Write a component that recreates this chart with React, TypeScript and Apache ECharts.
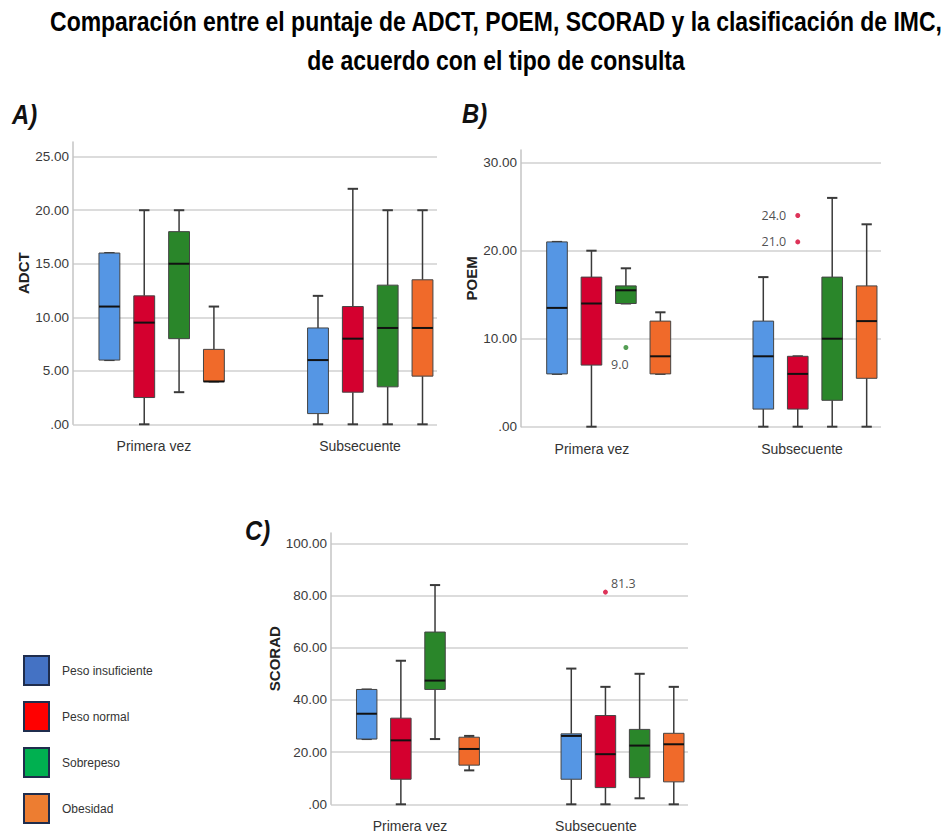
import React, { useEffect, useRef } from "react";
import * as echarts from "echarts";

// ---------------- data ----------------
const categories = ["Primera vez", "Subsecuente"];
const bmiClasses = ["Peso insuficiente", "Peso normal", "Sobrepeso", "Obesidad"];

// five-number summaries [min, Q1, median, Q3, max]; one row per category (Primera vez, Subsecuente)
const adctInsuficiente = [[6, 6, 11, 16, 16], [0, 1, 6, 9, 12]];
const adctNormal = [[0, 2.5, 9.5, 12, 20], [0, 3, 8, 11, 22]];
const adctSobrepeso = [[3, 8, 15, 18, 20], [0, 3.5, 9, 13, 20]];
const adctObesidad = [[4, 4, 4, 7, 11], [0, 4.5, 9, 13.5, 20]];

const poemInsuficiente = [[6, 6, 13.5, 21, 21], [0, 2, 8, 12, 17]];
const poemNormal = [[0, 7, 14, 17, 20], [0, 2, 6, 8, 8]];
const poemSobrepeso = [[14, 14, 15.5, 16, 18], [0, 3, 10, 17, 26]];
const poemObesidad = [[6, 6, 8, 12, 13], [0, 5.5, 12, 16, 23]];

const scoradInsuficiente = [[25, 25, 34.7, 44, 44], [0, 9.6, 26.2, 27, 52]];
const scoradNormal = [[0, 9.6, 24.5, 33, 55], [0, 6.4, 19.2, 34, 45]];
const scoradSobrepeso = [[25, 44, 47.4, 66, 84], [2.3, 10.2, 22.5, 28.7, 50]];
const scoradObesidad = [[13, 15, 21.2, 25.7, 26.2], [0, 8.6, 23, 27.2, 45]];

// outliers: [category index, class index, value]
const adctOutliers: number[][] = [];
const poemOutliers = [[0, 2, 9.0], [1, 1, 21.0], [1, 1, 24.0]];
const scoradOutliers = [[1, 1, 81.3]];

const adctTicks = [0, 5, 10, 15, 20, 25];
const poemTicks = [0, 10, 20, 30];
const scoradTicks = [0, 20, 40, 60, 80, 100];

const titleText =
  "Comparación entre el puntaje de ADCT, POEM, SCORAD y la clasificación de IMC,\nde acuerdo con el tipo de consulta";

// ---------------- styles / layout ----------------
const SANS = '"Liberation Sans", Arial, sans-serif';
const boxColors = ["#5596e4", "#d4002f", "#2a862a", "#f06a2a"];
const legendColors = ["#4472c4", "#ff0000", "#00b050", "#ed7d31"];
const SPACING = 0.167; // offset between boxes of one category, in x units
const BOX_W = 0.1;
const X_MIN = -0.425;
const X_MAX = 1.32;

const panels = [
  {
    tag: "A)", name: "ADCT", ticks: adctTicks, outliers: adctOutliers,
    boxes: [adctInsuficiente, adctNormal, adctSobrepeso, adctObesidad],
    grid: { left: 73, top: 156.7, width: 364, height: 267.6 }, axisTop: 142, nameGap: 42,
    labelAt: [-0.037, 0.951], tagPos: [12, 100],
  },
  {
    tag: "B)", name: "POEM", ticks: poemTicks, outliers: poemOutliers,
    boxes: [poemInsuficiente, poemNormal, poemSobrepeso, poemObesidad],
    grid: { left: 521, top: 162.7, width: 360, height: 264 }, axisTop: 150, nameGap: 42,
    labelAt: [-0.081, 0.937], tagPos: [462, 99],
  },
  {
    tag: "C)", name: "SCORAD", ticks: scoradTicks, outliers: scoradOutliers,
    boxes: [scoradInsuficiente, scoradNormal, scoradSobrepeso, scoradObesidad],
    grid: { left: 331, top: 543.3, width: 357, height: 261 }, axisTop: 533, nameGap: 49,
    labelAt: [-0.039, 0.87], tagPos: [245, 516],
  },
];

function outlierLabel(panel: string, cls: number) {
  if (panel === "POEM" && cls === 2) return { position: "bottom", distance: 8, offset: [-6, 0] };
  if (panel === "SCORAD") return { position: "right", distance: 3, offset: [0, -9] };
  return { position: "left", distance: 9 };
}

function makeRender(k: number) {
  return (params: any, api: any) => {
    const xc = api.value(0) + (k - 1.5) * SPACING;
    const mn = api.value(1), q1 = api.value(2), md = api.value(3), q3 = api.value(4), mx = api.value(5);
    const pMax = api.coord([xc, mx]);
    const pQ3 = api.coord([xc, q3]);
    const pMd = api.coord([xc, md]);
    const pQ1 = api.coord([xc, q1]);
    const pMin = api.coord([xc, mn]);
    const hb = api.size([BOX_W, 0])[0] / 2;
    const hc = hb / 2;
    const stroke = "#3a3a3a";
    return {
      type: "group",
      children: [
        { type: "line", shape: { x1: pMax[0], y1: pMax[1], x2: pQ3[0], y2: pQ3[1] }, style: { stroke, lineWidth: 1.5 } },
        { type: "line", shape: { x1: pQ1[0], y1: pQ1[1], x2: pMin[0], y2: pMin[1] }, style: { stroke, lineWidth: 1.5 } },
        { type: "line", shape: { x1: pMax[0] - hc, y1: pMax[1], x2: pMax[0] + hc, y2: pMax[1] }, style: { stroke, lineWidth: 2 } },
        { type: "line", shape: { x1: pMin[0] - hc, y1: pMin[1], x2: pMin[0] + hc, y2: pMin[1] }, style: { stroke, lineWidth: 2 } },
        {
          type: "rect",
          shape: { x: pQ3[0] - hb, y: pQ3[1], width: 2 * hb, height: Math.max(pQ1[1] - pQ3[1], 1) },
          style: { fill: boxColors[k], stroke: "#444", lineWidth: 1 },
        },
        { type: "line", shape: { x1: pMd[0] - hb, y1: pMd[1], x2: pMd[0] + hb, y2: pMd[1] }, style: { stroke: "#111", lineWidth: 2 } },
      ],
    };
  };
}

function buildOption() {
  const grid: any[] = [];
  const xAxis: any[] = [];
  const yAxis: any[] = [];
  const series: any[] = [];
  const graphic: any[] = [
    {
      type: "text", x: 496, y: 2, scaleX: 0.82,
      style: { text: titleText, align: "center", font: `bold 28px ${SANS}`, lineHeight: 39, fill: "#000" },
    },
  ];

  panels.forEach((p) => {
    const gFrame = grid.length;
    grid.push({ ...p.grid });
    const min = p.ticks[0];
    const max = p.ticks[p.ticks.length - 1];
    const interval = p.ticks[1] - p.ticks[0];
    xAxis.push({
      type: "value", gridIndex: gFrame, min: X_MIN, max: X_MAX,
      axisLine: { show: false }, axisTick: { show: false }, splitLine: { show: false },
      axisLabel: {
        customValues: p.labelAt,
        formatter: (v: number) => (v < 0.5 ? categories[0] : categories[1]),
        fontSize: 14, color: "#333", margin: 15, fontFamily: SANS,
      },
    });
    yAxis.push({
      type: "value", gridIndex: gFrame, min, max, interval,
      axisLine: { show: false }, axisTick: { show: false },
      splitLine: { show: true, lineStyle: { color: "#dcdcdc", width: 2 } },
      axisLabel: {
        formatter: (v: number) => (v === 0 ? ".00" : v.toFixed(2)),
        fontSize: 13.5, color: "#3a3a3a", margin: 4, fontFamily: SANS,
      },
    });
    // axis line grid
    const gLine = grid.length;
    const bottomY = p.grid.top + p.grid.height;
    grid.push({ left: p.grid.left, top: p.axisTop, width: 1, height: bottomY - p.axisTop });
    xAxis.push({ type: "value", gridIndex: gLine, show: false, min: 0, max: 1 });
    yAxis.push({
      type: "value", gridIndex: gLine, min: 0, max: 1,
      axisLine: { show: true, lineStyle: { color: "#c4c4c4", width: 1.5 } },
      axisTick: { show: false }, axisLabel: { show: false }, splitLine: { show: false },
      name: p.name, nameLocation: "middle", nameGap: p.nameGap, nameRotate: 90,
      nameTextStyle: { fontWeight: "bold", fontSize: 15, fontFamily: SANS, color: "#222", padding: [0, 0, 0, 20] },
    });

    const xi = xAxis.length - 2;
    const yi = yAxis.length - 2;
    p.boxes.forEach((rows, k) => {
      series.push({
        type: "custom", name: bmiClasses[k], xAxisIndex: xi, yAxisIndex: yi,
        renderItem: makeRender(k),
        itemStyle: { color: legendColors[k] },
        encode: { x: 0, y: [1, 2, 3, 4, 5] },
        data: rows.map((r, gi) => [gi, ...r]),
        z: 3,
      });
      const outs = p.outliers.filter((o) => o[1] === k);
      if (outs.length) {
        series.push({
          type: "scatter", name: bmiClasses[k], xAxisIndex: xi, yAxisIndex: yi,
          symbol: "circle", symbolSize: 5,
          itemStyle: { color: boxColors[k] },
          z: 4,
          data: outs.map((o) => ({
            value: [o[0] + (k - 1.5) * SPACING, o[2]],
            label: {
              show: true,
              formatter: (prm: any) => prm.value[1].toFixed(1),
              fontSize: 12.5, color: "#222", fontFamily: '"Open Sans", "Noto Sans", sans-serif',
              ...outlierLabel(p.name, k),
            },
          })),
        });
      }
    });

    graphic.push({
      type: "text", x: p.tagPos[0], y: p.tagPos[1], scaleX: 0.85,
      style: { text: p.tag, font: `italic bold 28px ${SANS}`, fill: "#111" },
    });
  });

  return {
    animation: false,
    backgroundColor: "#ffffff",
    grid,
    xAxis,
    yAxis,
    series,
    graphic,
    legend: {
      orient: "vertical", left: 18, top: 650, icon: "rect",
      itemWidth: 25, itemHeight: 29, itemGap: 15, selectedMode: false,
      data: bmiClasses.map((n, k) => ({
        name: n,
        itemStyle: { color: legendColors[k], borderColor: "#1f2d4d", borderWidth: 2 },
      })),
      textStyle: { fontSize: 12, color: "#333", fontFamily: SANS, padding: [0, 0, 0, 8] },
    },
  };
}

export default function App() {
  const ref = useRef<HTMLDivElement>(null);
  useEffect(() => {
    document.body.style.margin = "0";
    if (!ref.current) return;
    const chart = echarts.init(ref.current, undefined, { renderer: "svg" });
    chart.setOption(buildOption() as any);
    return () => chart.dispose();
  }, []);
  return <div ref={ref} style={{ width: 943, height: 840 }} />;
}
